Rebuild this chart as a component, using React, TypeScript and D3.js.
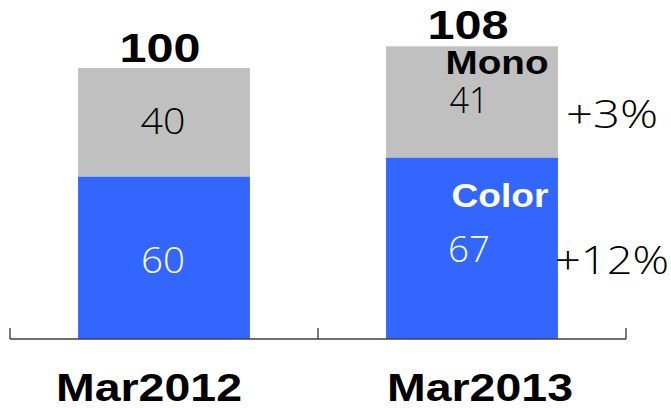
import React from "react";
import * as d3 from "d3";

const categories = ["Mar2012", "Mar2013"];
const colorValues = [60, 67];
const monoValues = [40, 41];
const totalLabels = ["100", "108"];
const seriesNames = ["Color", "Mono"];
const growthColor = "+12%";
const growthMono = "+3%";

const W = 671;
const H = 408;

export default function App() {
  const x = d3.scaleBand<string>().domain(categories).range([10, 626]).padding(0);
  const y = d3.scaleLinear().domain([0, 100]).range([339, 68]);
  const barW = x.bandwidth() * 0.558;
  const stack = d3.stack<any>().keys(["color", "mono"])(
    categories.map((c, i) => ({ cat: c, color: colorValues[i], mono: monoValues[i] }))
  );
  const fills = ["#3366FF", "#C0C0C0"];
  const boldFont = "'Liberation Sans', Arial, sans-serif";
  const lightFont = "'Open Sans', 'Noto Sans', sans-serif";
  const cx = (i: number) => (x(categories[i]) as number) + x.bandwidth() / 2;
  const ticks = [10, ...categories.map((c) => (x(c) as number) + x.bandwidth())];

  return (
    <svg
      width={W}
      height={H}
      style={{ position: "absolute", left: 0, top: 0, background: "#fff" }}
    >
      {stack.map((layer, li) =>
        layer.map((d, i) => (
          <rect
            key={li + "-" + i}
            x={cx(i) - barW / 2}
            y={y(d[1])}
            width={barW}
            height={y(d[0]) - y(d[1])}
            fill={fills[li]}
          />
        ))
      )}
      {/* axis */}
      <line x1={10} x2={626} y1={339} y2={339} stroke="#404040" strokeWidth={1.4} />
      {ticks.map((t, i) => (
        <line key={i} x1={t} x2={t} y1={339} y2={328} stroke="#404040" strokeWidth={1.4} />
      ))}
      {categories.map((c, i) => (
        <text
          key={c}
          x={cx(i) - 15 + i * 23}
          y={401}
          textAnchor="middle"
          fontFamily={boldFont}
          fontWeight="bold"
          fontSize={38}
          textLength={186}
          lengthAdjust="spacingAndGlyphs"
          fill="#000"
        >
          {c}
        </text>
      ))}
      {/* totals */}
      {totalLabels.map((t, i) => (
        <text
          key={t}
          x={cx(i) - 4}
          y={y(colorValues[i] + monoValues[i]) - 6 - i * 1}
          textAnchor="middle"
          fontFamily={boldFont}
          fontWeight="bold"
          fontSize={40}
          textLength={81}
          lengthAdjust="spacingAndGlyphs"
          fill="#000"
        >
          {t}
        </text>
      ))}
      {/* segment values */}
      {categories.map((c, i) => (
        <g key={"v" + c}>
          <text
            x={cx(i) - 1 - i * 2}
            y={i === 0 ? 273 : 262}
            textAnchor="middle"
            fontFamily={lightFont}
            fontWeight={300}
            fontSize={37}
            textLength={i === 0 ? 44 : 42}
            lengthAdjust="spacingAndGlyphs"
            fill="#fff"
          >
            {colorValues[i]}
          </text>
          <text
            x={cx(i) - 1 - i * 2}
            y={i === 0 ? 134 : 113}
            textAnchor="middle"
            fontFamily={lightFont}
            fontWeight={300}
            fontSize={37}
            textLength={i === 0 ? 45 : 39}
            lengthAdjust="spacingAndGlyphs"
            fill="#000"
          >
            {monoValues[i]}
          </text>
        </g>
      ))}
      {/* series names on second bar */}
      <text
        x={497}
        y={74}
        textAnchor="middle"
        fontFamily={boldFont}
        fontWeight="bold"
        fontSize={34}
        textLength={103}
        lengthAdjust="spacingAndGlyphs"
        fill="#000"
      >
        {seriesNames[1]}
      </text>
      <text
        x={500}
        y={207}
        textAnchor="middle"
        fontFamily={boldFont}
        fontWeight="bold"
        fontSize={34}
        textLength={97}
        lengthAdjust="spacingAndGlyphs"
        fill="#fff"
      >
        {seriesNames[0]}
      </text>
      {/* growth */}
      <text
        x={612}
        y={128}
        textAnchor="middle"
        fontFamily={lightFont}
        fontWeight={300}
        fontSize={39}
        textLength={92}
        lengthAdjust="spacingAndGlyphs"
        fill="#000"
      >
        {growthMono}
      </text>
      <text
        x={612}
        y={274}
        textAnchor="middle"
        fontFamily={lightFont}
        fontWeight={300}
        fontSize={39}
        textLength={114}
        lengthAdjust="spacingAndGlyphs"
        fill="#000"
      >
        {growthColor}
      </text>
    </svg>
  );
}
